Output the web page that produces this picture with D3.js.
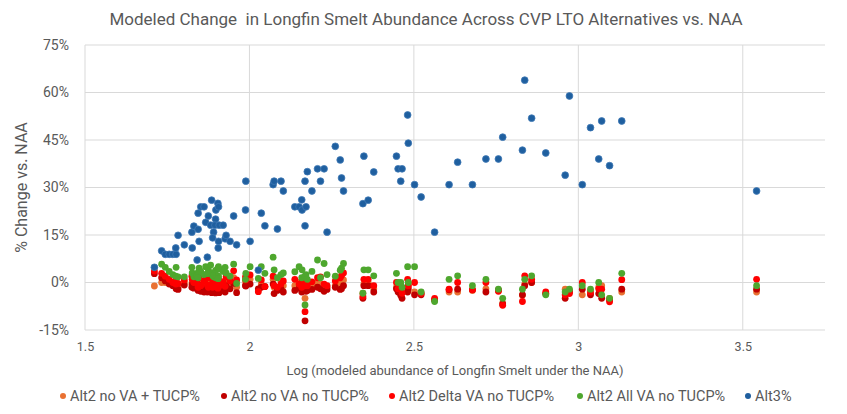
<!DOCTYPE html>
<html>
<head>
<meta charset="utf-8">
<script src="https://cdn.jsdelivr.net/npm/d3@7"></script>
<style>
  html, body { margin: 0; padding: 0; background: #fff; }
  svg { display: block; }
  text { font-family: "Roboto", "Liberation Sans", Arial, sans-serif; fill: #595959; }
</style>
</head>
<body>
<svg id="chart" width="847" height="414"></svg>
<script>
// Log (NAA abundance) per simulated year
const logAbundance = [1.711,1.733,1.744,1.756,1.767,1.777,1.776,1.783,1.802,1.825,1.826,1.831,1.844,1.841,1.847,1.844,1.852,1.862,1.875,1.867,1.885,1.898,1.904,1.906,1.897,1.882,1.895,1.908,1.920,1.891,1.888,1.906,1.905,1.926,1.929,1.941,1.952,1.961,1.872,1.989,1.988,2.002,2.027,2.036,2.047,2.072,2.075,2.096,2.103,2.085,2.138,2.151,2.159,2.160,2.172,2.169,2.169,2.176,2.190,2.207,2.227,2.216,2.236,2.276,2.261,2.280,2.286,2.348,2.345,2.361,2.378,2.447,2.452,2.464,2.460,2.481,2.483,2.502,2.522,2.563,2.607,2.633,2.678,2.719,2.757,2.770,2.830,2.837,2.858,2.901,2.960,2.973,3.012,3.037,3.062,3.071,3.095,3.132,3.542];

const alt2NoVaTucp = [-1.1,0.0,0.0,0.2,-0.3,-1.0,-0.8,-1.5,0.0,-0.5,0.3,-1.0,-1.5,-0.5,0.0,-1.0,-0.5,-1.2,-0.8,0.5,-1.5,-0.3,-1.0,-0.5,-1.8,0.2,-0.8,-1.2,-0.5,0.5,-1.0,0.0,-0.8,-1.5,0.8,-0.5,1.5,-1.5,-0.5,-0.5,0.5,1.0,-2.4,-0.5,-1.3,1.0,-1.5,0.5,-1.0,-2.0,-1.0,0.0,-1.5,-0.5,-1.0,-5.0,0.5,-0.5,-0.8,0.0,-1.0,-0.5,-1.5,0.0,-1.0,-0.5,0.8,-0.5,-3.4,0.0,-2.0,-1.5,-2.5,-3.0,-2.0,-2.0,-1.0,-3.0,-3.2,-5.5,-3.0,-3.0,-2.5,-2.0,-2.5,-6.5,-4.0,-0.5,0.0,-3.5,-2.1,-2.5,-3.9,-3.5,-1.5,-1.0,-5.0,-3.0,-3.0];

const alt2NoVaNoTucp = [2.8,1.5,0.5,-0.5,-1.0,-2.0,-1.5,-2.2,-0.8,-1.5,-0.5,-1.8,-2.0,-1.2,-0.8,-2.5,-2.8,-3.0,-2.2,-1.8,-3.2,-2.5,-3.0,-2.0,-3.3,-1.5,-2.8,-3.2,-2.4,-2.0,-2.6,-1.8,-2.2,-3.0,-1.0,-2.0,-0.3,-3.2,-3.0,-1.1,-1.0,-0.5,-2.0,-1.5,-1.3,-0.5,-3.5,-2.0,-3.0,-2.5,-2.5,-1.8,-3.0,-2.2,-2.8,-12.1,-2.0,-2.5,-2.2,-1.5,-2.8,-2.0,-2.2,-2.2,-1.5,-2.0,-1.0,-1.0,-5.0,-1.0,-3.0,-2.0,-3.0,-5.0,-4.0,-3.0,-2.0,-3.9,-3.9,-5.5,-2.3,-2.1,-2.3,-3.0,-2.3,-6.8,-3.9,-1.0,0.0,-3.5,-5.0,-3.0,-2.1,-3.9,-3.5,-5.0,-5.5,-2.1,-2.1];

const alt2DeltaVaNoTucp = [3.6,2.9,2.0,1.0,0.0,1.5,-0.5,-0.3,0.8,2.0,1.0,0.0,-1.0,0.5,1.5,-1.5,-1.0,0.5,-1.5,1.0,-0.5,0.0,-1.8,0.8,-1.2,1.5,-0.8,-1.0,0.3,0.5,-1.5,-0.5,1.2,-1.2,1.8,0.5,3.7,0.8,-0.8,0.8,1.8,2.4,-2.9,0.8,-1.3,2.0,-1.0,-0.5,0.5,-1.5,1.0,-0.5,-1.5,0.5,-1.0,-9.2,0.0,-1.0,0.2,1.5,-0.5,1.8,-1.0,1.5,0.5,2.2,3.0,1.0,-4.4,1.0,-1.0,0.0,-2.0,-3.4,-1.0,1.0,-1.0,0.0,-3.5,-5.0,-2.1,0.0,-2.3,0.0,-2.8,-7.2,-6.0,2.1,1.0,-3.0,-3.9,-3.5,0.0,-3.0,-2.0,-2.1,-6.1,0.9,1.0];

const alt2AllVaNoTucp = [4.8,5.8,4.8,3.5,2.5,4.8,2.0,1.8,1.8,4.8,3.0,1.8,3.2,2.0,4.5,1.5,3.5,2.5,4.0,5.0,3.0,1.5,4.5,2.0,3.8,5.5,2.8,4.2,3.5,1.8,2.2,5.0,1.2,4.8,3.0,2.0,5.8,-0.3,2.8,2.9,1.0,5.0,1.3,5.0,2.9,8.0,4.0,2.5,3.0,1.5,3.4,5.0,1.5,4.0,2.5,-7.1,2.0,1.0,3.5,7.1,6.0,1.5,2.5,3.9,2.0,4.5,6.0,4.0,-3.4,4.0,2.1,2.9,0.0,-1.5,0.0,5.0,0.0,5.0,-3.0,-6.0,1.0,2.1,-1.0,1.0,-2.1,-5.0,-2.1,1.0,2.1,-3.9,-3.0,-2.1,-1.0,-2.1,0.0,-3.9,-5.0,2.9,-1.0];

const alt3 = [4.8,10.0,8.9,8.9,8.9,8.9,10.9,14.9,11.9,15.9,10.9,17.8,16.8,7.1,13.0,21.9,23.9,23.9,21.0,19.0,26.0,22.9,25.0,23.9,20.0,18.1,18.1,18.1,18.1,15.9,14.1,13.0,10.9,13.8,14.9,13.0,21.0,11.9,8.0,32.0,22.9,13.0,3.9,21.9,17.9,30.9,32.0,32.0,28.9,16.9,23.9,23.9,26.1,22.9,23.9,17.9,32.0,35.0,28.9,35.9,35.9,32.0,15.9,38.7,43.0,33.0,28.9,39.9,24.9,26.0,34.9,39.9,35.9,35.9,32.0,52.9,44.0,30.9,27.0,15.9,30.9,38.0,30.9,39.0,39.0,45.9,41.8,63.9,51.9,40.9,33.9,58.9,30.9,48.9,39.0,51.0,36.9,51.0,28.9];

const seriesNames = ["Alt2 no VA + TUCP%", "Alt2 no VA no TUCP%", "Alt2 Delta VA no TUCP%", "Alt2 All VA no TUCP%", "Alt3%"];
const seriesColors = ["#E97132", "#C00000", "#FF0000", "#4EA72E", "#1F5F9F"];
const seriesValues = [alt2NoVaTucp, alt2NoVaNoTucp, alt2DeltaVaNoTucp, alt2AllVaNoTucp, alt3];

const xTicks = [1.5, 2, 2.5, 3, 3.5];
const yTicks = [-15, 0, 15, 30, 45, 60, 75];

const chartTitle = "Modeled Change  in Longfin Smelt Abundance Across CVP LTO Alternatives vs. NAA";
const xTitle = "Log (modeled abundance of Longfin Smelt under the NAA)";
const yTitle = "% Change vs. NAA";

const svg = d3.select("#chart");
const x = d3.scaleLinear().domain([1.5, 3.75]).range([85, 825]);
const y = d3.scaleLinear().domain([-15, 75]).range([330, 45]);

// gridlines
svg.append("g").selectAll("line").data(yTicks).join("line")
  .attr("x1", x(1.5)).attr("x2", x(3.75))
  .attr("y1", d => y(d)).attr("y2", d => y(d))
  .attr("stroke", "#D9D9D9").attr("stroke-width", 1);
svg.append("g").selectAll("line").data(xTicks).join("line")
  .attr("x1", d => x(d)).attr("x2", d => x(d))
  .attr("y1", y(75)).attr("y2", y(-15))
  .attr("stroke", "#D9D9D9").attr("stroke-width", 1);

// axes
const yAxis = d3.axisLeft(y).tickValues(yTicks).tickFormat(d => d + "%").tickSize(0).tickPadding(16);
const yg = svg.append("g").attr("transform", `translate(${x(1.5)},0)`).call(yAxis);
yg.select(".domain").remove();
yg.selectAll("text").style("font-size", "14px").attr("fill", "#595959");

const xAxis = d3.axisBottom(x).tickValues(xTicks).tickFormat(d3.format("")).tickSize(0).tickPadding(12);
const xg = svg.append("g").attr("transform", `translate(0,${y(-15)})`).call(xAxis);
xg.select(".domain").remove();
xg.selectAll("text").style("font-size", "12.5px").attr("fill", "#595959");

// points
seriesValues.forEach((vals, si) => {
  svg.append("g").selectAll("circle").data(vals.map((v, i) => [logAbundance[i], v])).join("circle")
    .attr("cx", d => x(d[0])).attr("cy", d => y(d[1])).attr("r", 3.4)
    .attr("fill", seriesColors[si])
    .attr("stroke", si === 4 ? "#3f78b5" : "none").attr("stroke-width", 0.8);
});

// titles
svg.append("text").attr("x", 426).attr("y", 25).attr("text-anchor", "middle")
  .style("font-size", "17px").style("white-space", "pre").text(chartTitle);
svg.append("text").attr("x", x(2.625)).attr("y", 375).attr("text-anchor", "middle")
  .style("font-size", "13px").text(xTitle);
svg.append("text").attr("transform", `translate(27,${y(30)}) rotate(-90)`).attr("text-anchor", "middle")
  .style("font-size", "16px").text(yTitle);

// legend
const legendX = [63, 224, 392, 580, 748];
const lg = svg.append("g");
seriesNames.forEach((n, i) => {
  lg.append("circle").attr("cx", legendX[i]).attr("cy", 396).attr("r", 3).attr("fill", seriesColors[i]);
  lg.append("text").attr("x", legendX[i] + 7).attr("y", 401).style("font-size", "14.5px").text(n);
});
</script>
</body>
</html>
